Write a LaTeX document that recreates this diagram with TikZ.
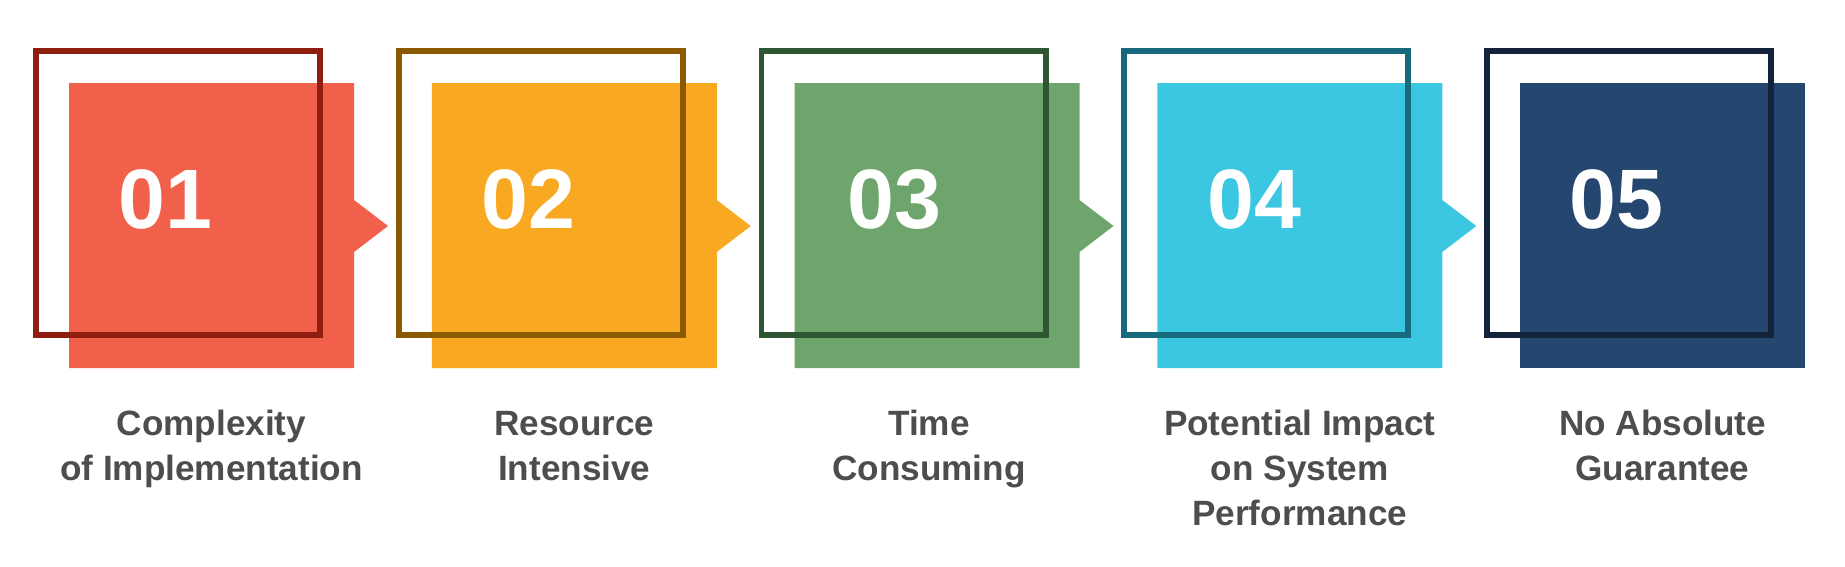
\documentclass[tikz,border=0pt]{standalone}
\usepackage{fontspec}
\setmainfont{Liberation Sans}
\definecolor{fillA}{HTML}{F1604B}
\definecolor{lineA}{HTML}{8F1E10}
\definecolor{fillB}{HTML}{F9A822}
\definecolor{lineB}{HTML}{8B5A00}
\definecolor{fillC}{HTML}{6DA56C}
\definecolor{lineC}{HTML}{2F5632}
\definecolor{fillD}{HTML}{3BC6E1}
\definecolor{lineD}{HTML}{17697D}
\definecolor{fillE}{HTML}{25466F}
\definecolor{lineE}{HTML}{12233A}
\definecolor{txtgray}{HTML}{4D4D4D}
\begin{document}
\begin{tikzpicture}[x=0.02cm, y=-0.02cm,
  frame/.style={line width=3.4pt},
  num/.style={anchor=base west, inner sep=0pt, text=white, font=\fontsize{48}{48}\selectfont\bfseries},
  lbl/.style={anchor=base, inner sep=0pt, align=center, text=txtgray, font=\fontsize{20}{25.6}\selectfont\bfseries}]
  \useasboundingbox (0,0) rectangle (1845,566);

  % 01 (with pointer to the right)
  % label node sits on the baseline of its last line
  \fill[fillA] (69,83) -- (354,83) -- (354,200) -- (388,226) -- (354,252) -- (354,368) -- (69,368) -- cycle;
  \draw[frame, lineA] (36,51) rectangle (320,335);
  \node[num] (n1) at (118.5,228) {01};
  \node[lbl] (t1) at (211.5,480) {Complexity\\of Implementation};

  % 02
  \begin{scope}[shift={(362.75,0)}]
    \fill[fillB] (69,83) -- (354,83) -- (354,200) -- (388,226) -- (354,252) -- (354,368) -- (69,368) -- cycle;
    \draw[frame, lineB] (36,51) rectangle (320,335);
    \node[num] (n2) at (118.5,228) {02};
    \node[lbl] (t2) at (211.5,480) {Resource\\Intensive};
  \end{scope}

  % 03 (text a bit off centre in the original)
  \begin{scope}[shift={(725.5,0)}]
    \fill[fillC] (69,83) -- (354,83) -- (354,200) -- (388,226) -- (354,252) -- (354,368) -- (69,368) -- cycle;
    \draw[frame, lineC] (36,51) rectangle (320,335);
    \node[num] (n3) at (121.5,228) {03};
    \node[lbl] (t3) at (203.5,480) {Time\\Consuming};
  \end{scope}

  % 04 (three lines)
  \begin{scope}[shift={(1088.25,0)}]
    \fill[fillD] (69,83) -- (354,83) -- (354,200) -- (388,226) -- (354,252) -- (354,368) -- (69,368) -- cycle;
    \draw[frame, lineD] (36,51) rectangle (320,335);
    \node[num] (n4) at (118.5,228) {04};
    \node[lbl] (t4) at (211.5,525) {Potential Impact\\on System\\Performance};
  \end{scope}

  % 05 (last one, no pointer)
  \begin{scope}[shift={(1451,0)}]
    \fill[fillE] (69,83) rectangle (354,368);
    \draw[frame, lineE] (36,51) rectangle (320,335);
    \node[num] (n5) at (118.5,228) {05};
    \node[lbl] (t5) at (211.5,480) {No Absolute\\Guarantee};
  \end{scope}
\end{tikzpicture}
\end{document}
